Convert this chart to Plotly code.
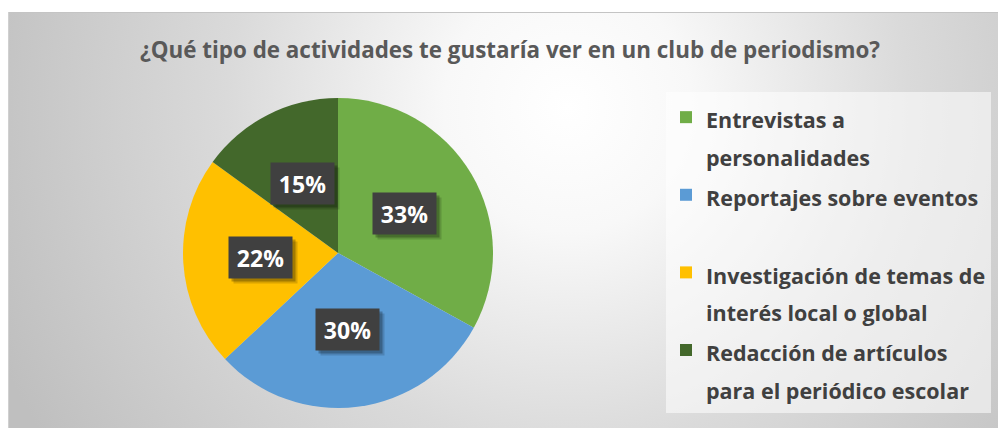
import base64
import math
import plotly.graph_objects as go

# ---- data ----
categories = [
    "Entrevistas a personalidades",
    "Reportajes sobre eventos",
    "Investigación de temas de interés local o global",
    "Redacción de artículos para el periódico escolar",
]
legend_labels = [
    "Entrevistas a<br>personalidades",
    "Reportajes sobre eventos<br> ",
    "Investigación de temas de<br>interés local o global",
    "Redacción de artículos<br>para el periódico escolar",
]
values = [33, 30, 22, 15]
colors = ["#70AD47", "#5B9BD5", "#FFC000", "#43682B"]
title_text = "¿Qué tipo de actividades te gustaría ver en un club de periodismo?"

# page body has an 8px margin; work in page pixels and subtract it
OFF = 8
W, H = 1006 - OFF, 428 - OFF
FONT = "Open Sans"


def fx(px):
    return (px - OFF) / W


def fy(py):
    return 1 - (py - OFF) / H


# pie geometry (page pixels)
pcx, pcy, pr = 338, 253, 155
dom_x = [fx(pcx - pr), fx(pcx + pr)]
dom_y = [fy(pcy + pr), fy(pcy - pr)]

fig = go.Figure()
fig.add_trace(go.Pie(
    labels=[f'<span style="font-size:21.5px"><b>{l}</b></span>' for l in legend_labels],
    values=values,
    customdata=categories,
    marker=dict(colors=colors, line=dict(width=0)),
    sort=False,
    direction="clockwise",
    rotation=0,
    textinfo="none",
    hovertemplate="%{customdata}: %{percent}<extra></extra>",
    domain=dict(x=dom_x, y=dom_y),
))

# data labels (dark boxes) placed along each slice's mid angle
total = sum(values)
cum = 0
annotations = []
for v in values:
    mid = (cum + v / 2) / total * 2 * math.pi
    cum += v
    px = pcx + 0.5 * pr * math.sin(mid)
    py = pcy - 0.5 * pr * math.cos(mid)
    pct = round(v / total * 100)
    common = dict(x=fx(px), y=fy(py), xref="paper", yref="paper",
                  showarrow=False, width=63, height=41, borderpad=0,
                  xanchor="center", yanchor="middle")
    annotations.append(dict(text="", bgcolor="rgba(0,0,0,0.15)",
                            xshift=5, yshift=-5, **common))
    annotations.append(dict(text="", bgcolor="rgba(0,0,0,0.25)",
                            xshift=3, yshift=-3, **common))
    annotations.append(dict(text=f"<b>{pct}%</b>", bgcolor="#404040",
                            font=dict(family=FONT, size=23, color="#ffffff"),
                            **common))

# radial gradient background as svg image (page coords 8..1006, 12..428)
bx, by = 8, 12
bw, bh = 1006 - bx, 428 - by
svg = f'''<svg xmlns="http://www.w3.org/2000/svg" width="{bw}" height="{bh}" viewBox="0 0 {bw} {bh}">
<defs><radialGradient id="g" gradientUnits="userSpaceOnUse" cx="560" cy="95" r="620">
<stop offset="0" stop-color="#ffffff"/>
<stop offset="0.2" stop-color="#f8f8f8"/>
<stop offset="0.55" stop-color="#dadada"/>
<stop offset="1" stop-color="#bfbfbf"/>
</radialGradient></defs>
<rect x="0" y="0" width="{bw}" height="{bh}" fill="url(#g)"/>
<line x1="0" y1="0.5" x2="{bw}" y2="0.5" stroke="#c4c4c4" stroke-width="1"/>
<line x1="0.5" y1="0" x2="0.5" y2="{bh}" stroke="#d0d0d0" stroke-width="1"/>
</svg>'''
src = "data:image/svg+xml;base64," + base64.b64encode(svg.encode()).decode()

fig.update_layout(
    width=W, height=H,
    margin=dict(l=0, r=0, t=0, b=0),
    paper_bgcolor="#ffffff",
    images=[dict(source=src, xref="paper", yref="paper",
                 x=fx(bx), y=fy(by), sizex=bw / W, sizey=bh / H,
                 xanchor="left", yanchor="top", sizing="stretch", layer="below")],
    title=dict(text=f"<b>{title_text}</b>", x=fx(510), xanchor="center",
               y=fy(50), yanchor="middle",
               font=dict(family=FONT, size=22.4, color="#595959")),
    legend=dict(x=fx(666), y=fy(92), xanchor="left", yanchor="top",
                bgcolor="rgba(255,255,255,0.55)", borderwidth=0,
                valign="top", traceorder="normal",
                font=dict(family=FONT, size=28.7, color="#404040")),
    annotations=annotations,
    showlegend=True,
)

fig.write_html("out.html")
